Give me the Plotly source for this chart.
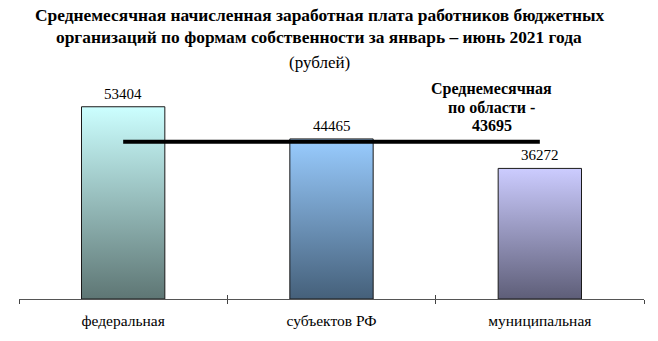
import plotly.graph_objects as go

categories = ["федеральная", "субъектов РФ", "муниципальная"]
salaries = [53404, 44465, 36272]
region_average = 43695
top_colors = ["#CCFFFF", "#99CCFF", "#CCCCFF"]
bottom_colors = ["#5E7674", "#45607A", "#5E5E78"]
title_lines = [
    "Среднемесячная начисленная заработная плата работников бюджетных",
    "организаций по формам собственности за январь – июнь 2021 года",
]
unit_label = "(рублей)"

SERIF = "'Times New Roman', 'Liberation Serif', 'DejaVu Serif', serif"
bar_half = 0.2
positions = list(range(len(categories)))
boundaries = [p - 0.5 for p in positions] + [positions[-1] + 0.5]

fig = go.Figure()

# gradient-filled bars
for x, v, ctop, cbot in zip(positions, salaries, top_colors, bottom_colors):
    fig.add_trace(go.Scatter(
        x=[x - bar_half, x - bar_half, x + bar_half, x + bar_half, x - bar_half],
        y=[0, v, v, 0, 0],
        mode="lines",
        fill="toself",
        fillgradient=dict(type="vertical", colorscale=[[0, cbot], [1, ctop]]),
        line=dict(color="#1a1a1a", width=1),
        hoverinfo="skip",
        showlegend=False,
    ))

# value labels above bars
for x, v in zip(positions, salaries):
    fig.add_annotation(
        x=x, y=v, xref="x", yref="y", yanchor="bottom", yshift=3,
        text=str(v), showarrow=False,
        font=dict(family=SERIF, size=15, color="#000"),
    )

# regional average line
fig.add_trace(go.Scatter(
    x=[positions[0], positions[-1]], y=[region_average, region_average],
    mode="lines", line=dict(color="#000", width=4),
    showlegend=False, hoverinfo="skip",
))

for i, line in enumerate(["Среднемесячная", "по области -", str(region_average)]):
    fig.add_annotation(
        x=1.77, y=region_average, xref="x", yref="y",
        yshift=53 - 18.5 * i, yanchor="middle",
        text=f"<b>{line}</b>", showarrow=False,
        font=dict(family=SERIF, size=16, color="#000"),
    )

# title block
for line, shift in zip(title_lines, [68, 46.5]):
    fig.add_annotation(
        x=0.48, y=1.0, xref="paper", yref="paper", yanchor="middle", yshift=shift,
        text=f"<b>{line}</b>", showarrow=False,
        font=dict(family=SERIF, size=17.4, color="#000"),
    )
fig.add_annotation(
    x=0.48, y=1.0, xref="paper", yref="paper", yanchor="middle", yshift=21,
    text=unit_label, showarrow=False,
    font=dict(family=SERIF, size=17, color="#000"),
)

# inner half of the boundary ticks (outer half comes from the main axis)
fig.add_trace(go.Scatter(x=[positions[0]], y=[0], xaxis="x2", mode="markers",
                         marker=dict(opacity=0), hoverinfo="skip", showlegend=False))

fig.update_layout(
    width=658, height=341,
    margin=dict(l=19, r=14, t=83, b=36),
    paper_bgcolor="white", plot_bgcolor="white",
    xaxis=dict(
        range=[-0.5, 2.5], tickvals=positions, ticktext=categories,
        ticks="", showgrid=False, zeroline=False,
        showline=True, linecolor="#555", linewidth=1,
        ticklabelstandoff=7,
        tickfont=dict(family=SERIF, size=15.5, color="#000"),
        minor=dict(tickvals=boundaries, ticks="outside",
                   ticklen=4, tickcolor="#444", showgrid=False),
        fixedrange=True,
    ),
    xaxis2=dict(
        range=[-0.5, 2.5], overlaying="x", anchor="y", side="bottom",
        tickvals=boundaries, ticktext=[""] * len(boundaries),
        ticks="inside", ticklen=4, tickcolor="#444",
        showline=False, showgrid=False, zeroline=False, fixedrange=True,
    ),
    yaxis=dict(range=[0, 60000], visible=False, fixedrange=True),
)

fig.write_html("out.html")
